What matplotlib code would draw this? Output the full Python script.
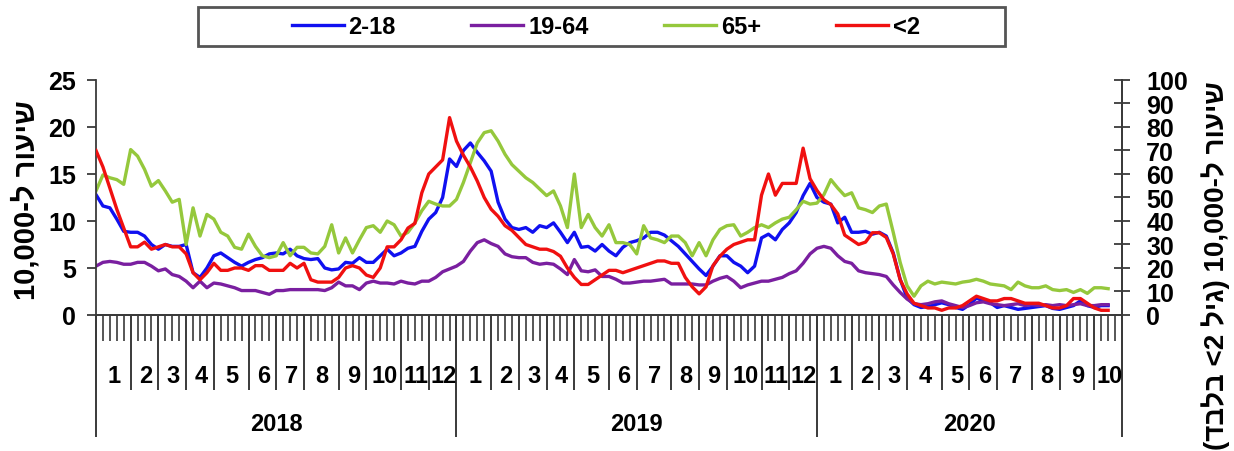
import matplotlib
matplotlib.use("Agg")
from matplotlib import pyplot as plt
from matplotlib.patches import Rectangle
import numpy as np

plt.rcParams['font.family'] = ['Liberation Sans', 'DejaVu Sans']
plt.rcParams['font.weight'] = 'bold'

# weekly rates per 10,000, week 1 of 2018 .. ~week 43 of 2020
age_2_18 = [12.8, 11.6, 11.4, 10.2, 8.9, 8.8, 8.8, 8.4, 7.5, 7.0,
            7.5, 7.3, 7.3, 7.5, 4.5, 4.0, 5.0, 6.3, 6.6, 6.1,
            5.6, 5.2, 5.6, 5.9, 6.1, 6.5, 6.6, 6.5, 7.0, 6.3,
            6.0, 5.9, 6.0, 5.0, 4.8, 4.9, 5.6, 5.5, 6.1, 5.6,
            5.6, 6.3, 7.0, 6.3, 6.6, 7.1, 7.3, 8.9, 10.2, 10.9,
            12.5, 16.6, 15.8, 17.5, 18.3, 17.3, 16.4, 15.3, 12.0, 10.2,
            9.3, 9.1, 9.3, 8.8, 9.5, 9.3, 9.8, 8.8, 7.7, 8.8,
            7.2, 7.3, 6.8, 7.5, 6.8, 6.3, 7.2, 7.7, 7.9, 8.2,
            8.8, 8.8, 8.5, 7.9, 7.3, 6.5, 5.7, 4.9, 4.2, 5.2,
            6.3, 6.3, 5.6, 5.2, 4.5, 5.2, 8.2, 8.6, 8.0, 9.1,
            9.8, 10.9, 12.7, 14.0, 12.5, 12.0, 11.8, 9.8, 10.4, 8.8,
            8.8, 8.9, 8.6, 8.8, 8.4, 6.6, 3.8, 1.8, 1.1, 0.8,
            0.9, 1.1, 1.3, 1.1, 0.8, 0.6, 1.1, 1.8, 1.5, 1.3,
            0.8, 1.0, 0.8, 0.6, 0.7, 0.8, 0.9, 1.0, 0.7, 0.6,
            0.8, 1.0, 1.5, 1.0, 0.8, 1.0, 1.0]

age_19_64 = [5.2, 5.6, 5.7, 5.6, 5.4, 5.4, 5.6, 5.6, 5.2, 4.7,
             4.9, 4.3, 4.1, 3.6, 2.9, 3.6, 2.9, 3.4, 3.3, 3.1,
             2.9, 2.6, 2.6, 2.6, 2.4, 2.2, 2.6, 2.6, 2.7, 2.7,
             2.7, 2.7, 2.7, 2.6, 2.9, 3.5, 3.1, 3.1, 2.7, 3.4,
             3.6, 3.4, 3.4, 3.3, 3.6, 3.4, 3.3, 3.6, 3.6, 4.0,
             4.6, 4.9, 5.2, 5.7, 6.8, 7.7, 8.0, 7.6, 7.3, 6.5,
             6.2, 6.1, 6.1, 5.6, 5.4, 5.5, 5.4, 4.9, 4.3, 5.9,
             4.7, 4.6, 4.8, 4.1, 4.1, 3.8, 3.4, 3.4, 3.5, 3.6,
             3.6, 3.7, 3.8, 3.3, 3.3, 3.3, 3.3, 3.2, 3.2, 3.6,
             3.9, 4.1, 3.6, 2.9, 3.2, 3.4, 3.6, 3.6, 3.8, 4.0,
             4.4, 4.7, 5.5, 6.5, 7.1, 7.3, 7.1, 6.3, 5.7, 5.5,
             4.7, 4.5, 4.4, 4.3, 4.1, 3.2, 2.4, 1.7, 1.2, 1.1,
             1.2, 1.4, 1.5, 1.2, 1.0, 0.8, 1.0, 1.3, 1.4, 1.2,
             1.1, 1.0, 1.1, 1.2, 1.0, 1.1, 1.0, 1.1, 1.0, 1.1,
             1.0, 1.1, 1.2, 1.0, 1.0, 1.1, 1.1]

age_65 = [13.2, 14.9, 14.6, 14.4, 13.9, 17.6, 16.9, 15.5, 13.7, 14.3,
          13.2, 12.0, 12.3, 7.5, 11.4, 8.4, 10.7, 10.2, 8.8, 8.4,
          7.2, 7.0, 8.6, 7.3, 6.3, 6.1, 6.3, 7.7, 6.3, 7.2,
          7.2, 6.6, 6.5, 7.3, 9.6, 6.6, 8.2, 6.6, 8.0, 9.3,
          9.5, 8.8, 10.0, 9.6, 8.4, 8.8, 9.8, 11.1, 12.1, 11.8,
          11.6, 11.6, 12.3, 14.1, 16.2, 18.3, 19.4, 19.6, 18.5, 17.1,
          16.0, 15.3, 14.6, 14.1, 13.4, 12.7, 13.2, 11.6, 9.3, 15.0,
          9.3, 10.7, 9.3, 8.4, 9.6, 7.7, 7.7, 7.5, 6.5, 9.5,
          8.2, 8.0, 7.7, 8.4, 8.4, 7.7, 6.3, 7.7, 6.3, 8.0,
          9.1, 9.5, 9.6, 8.4, 8.8, 9.3, 9.6, 9.3, 9.8, 10.2,
          10.4, 11.2, 12.1, 11.8, 11.9, 12.8, 14.4, 13.5, 12.7, 13.0,
          11.4, 11.2, 10.9, 11.6, 11.8, 8.8, 5.6, 3.1, 2.0, 3.1,
          3.6, 3.3, 3.5, 3.4, 3.3, 3.5, 3.6, 3.8, 3.6, 3.3,
          3.2, 3.1, 2.7, 3.5, 3.1, 2.9, 2.9, 3.1, 2.7, 2.6,
          2.7, 2.4, 2.7, 2.3, 2.9, 2.9, 2.8]

# under 2, right axis
age_under2 = [70, 63, 54, 45, 37, 29, 29, 31, 28, 29,
              30, 29, 29, 26, 18, 15, 18, 22, 19, 19,
              20, 20, 19, 21, 21, 19, 19, 19, 22, 20,
              22, 15, 14, 14, 14, 16, 20, 21, 20, 17,
              16, 20, 29, 29, 32, 37, 39, 52, 60, 63,
              66, 84, 74, 68, 63, 57, 50, 45, 42, 38,
              36, 33, 30, 29, 28, 28, 27, 25, 20, 16,
              13, 13, 15, 17, 19, 19, 18, 19, 20, 21,
              22, 23, 23, 22, 22, 16, 12, 9, 12, 21,
              25, 28, 30, 31, 32, 32, 51, 60, 51, 56,
              56, 56, 71, 58, 53, 49, 47, 43, 34, 32,
              30, 31, 35, 35, 33, 26, 15, 9, 5, 4,
              3, 3, 2, 3, 3, 4, 6, 8, 7, 6,
              6, 7, 7, 6, 5, 5, 5, 4, 3, 3,
              4, 7, 7, 5, 3, 2, 2]

years = ['2018', '2019', '2020']
weeks_per_month = [
    [5, 4, 4, 4, 5, 4, 4, 5, 4, 5, 4, 4],
    [5, 4, 4, 4, 5, 4, 5, 4, 4, 5, 4, 4],
    [5, 4, 4, 5, 4, 4, 5, 4, 5, 4],
]

W, H = 1234, 452
fig = plt.figure(figsize=(W / 100, H / 100), dpi=100)
ax = fig.add_axes([96 / W, 1 - 316 / H, (1122 - 96) / W, (316 - 81) / H])
ax2 = ax.twinx()

x = np.arange(len(age_2_18))
l1, = ax.plot(x, age_2_18, color='#1010f0', lw=2.4, label='2-18')
l2, = ax.plot(x, age_19_64, color='#7a1fa0', lw=2.4, label='19-64')
l3, = ax.plot(x, age_65, color='#95c83c', lw=2.4, label='65+')
l4, = ax2.plot(x, age_under2, color='#f01010', lw=2.4, label='<2')

n_weeks = sum(sum(m) for m in weeks_per_month)
ax.set_xlim(0, n_weeks)
ax.set_ylim(0, 25)
ax2.set_ylim(0, 100)
ax.set_yticks(np.arange(0, 26, 5))
ax2.set_yticks(np.arange(0, 101, 10))

spine_c = '#3a3a3a'
for a in (ax, ax2):
    for s in a.spines.values():
        s.set_color(spine_c)
        s.set_linewidth(1.3)
    a.spines['top'].set_visible(False)

ax.tick_params(axis='y', direction='out', length=6.5, width=1.3, color=spine_c,
               labelsize=18, pad=8)
ax2.tick_params(axis='y', direction='inout', length=11, width=1.3, color=spine_c,
                labelsize=18, pad=12)
ax2.spines['left'].set_visible(False)
for lab in ax.get_yticklabels() + ax2.get_yticklabels():
    lab.set_fontweight('bold')

# category axis: weeks / months / years
month_edges = [0]
year_edges = [0]
for months in weeks_per_month:
    for w in months:
        month_edges.append(month_edges[-1] + w)
    year_edges.append(month_edges[-1])

ax.set_xticks(month_edges)
ax.set_xticks(np.arange(0, n_weeks + 1), minor=True)
ax.set_xticklabels([])
ax.tick_params(axis='x', which='major', direction='out', length=54, width=1.4, color=spine_c)
ax.tick_params(axis='x', which='minor', direction='out', length=19, width=1.2, color=spine_c)

sec = ax.secondary_xaxis('bottom')
sec.set_xticks(year_edges)
sec.set_xticklabels([])
sec.tick_params(axis='x', direction='out', length=88, width=1.4, color=spine_c)
sec.spines['bottom'].set_visible(False)

k = 0
for yi, months in enumerate(weeks_per_month):
    for mi, w in enumerate(months):
        c = month_edges[k] + w / 2
        ax.annotate(str(mi + 1), xy=(c, 0), xycoords=('data', 'axes fraction'),
                    xytext=(1, -61), textcoords='offset pixels',
                    ha='center', va='center', fontsize=17, fontweight='bold')
        k += 1
    c = (year_edges[yi] + year_edges[yi + 1]) / 2
    ax.annotate(years[yi], xy=(c, 0), xycoords=('data', 'axes fraction'),
                xytext=(0, -109), textcoords='offset pixels',
                ha='center', va='center', fontsize=17, fontweight='bold')

# axis titles (Hebrew, written in visual order)
fig.text(26 / W, 1 - 200 / H, '10,000-ל רועיש', rotation=90,
         ha='center', va='center', fontsize=21, fontweight='bold')
fig.text(1216 / W, 1 - 266 / H, '(דבלב <2 ליג) 10,000-ל רועיש', rotation=90,
         ha='center', va='center', fontsize=20, fontweight='bold')

# legend in a box on top
fig.patches.append(Rectangle((198 / W, 1 - 47 / H), (1005 - 198) / W, 39 / H,
                             transform=fig.transFigure, fill=False,
                             edgecolor='#555555', lw=2))
fig.legend(handles=[l1, l2, l3, l4], loc='center', ncol=4,
           bbox_to_anchor=(606 / W, 1 - 28 / H), frameon=False,
           prop={'size': 17, 'weight': 'bold'}, handlelength=2.2,
           handletextpad=0.2, columnspacing=3.2)

fig.savefig('out.png', dpi=100)
